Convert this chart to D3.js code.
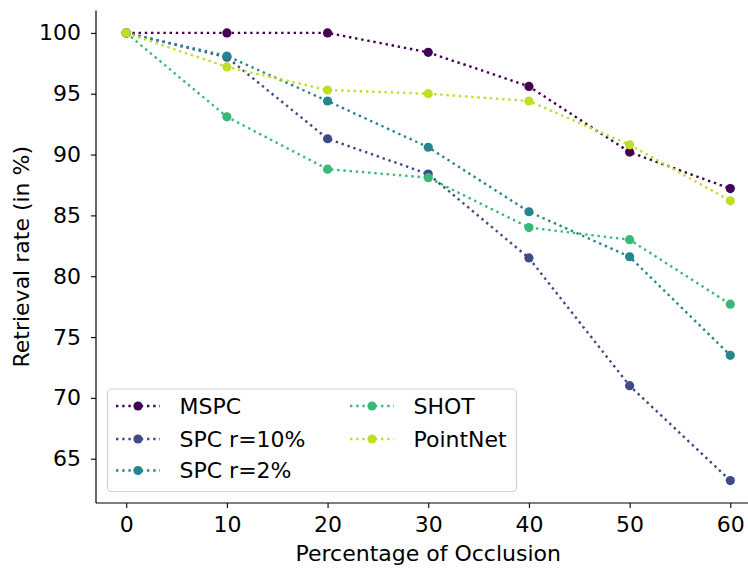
<!DOCTYPE html>
<html>
<head>
<meta charset="utf-8">
<script src="https://cdn.jsdelivr.net/npm/d3@7"></script>
<style>
  html, body { margin: 0; padding: 0; background: #fff; }
  svg { display: block; font-family: "DejaVu Sans", sans-serif; }
</style>
</head>
<body>
<svg id="chart" width="748" height="570"></svg>
<script>
// ---- data ----
const occlusion = [0, 10, 20, 30, 40, 50, 60];
const seriesNames = ["MSPC", "SPC r=10%", "SPC r=2%", "SHOT", "PointNet"];
const mspc     = [100, 100, 100, 98.4, 95.6, 90.2, 87.2];
const spc10    = [100, 98.0, 91.3, 88.4, 81.5, 71.0, 63.2];
const spc2     = [100, 98.1, 94.4, 90.6, 85.3, 81.6, 73.5];
const shot     = [100, 93.1, 88.8, 88.1, 84.0, 83.0, 77.7];
const pointnet = [100, 97.2, 95.3, 95.0, 94.4, 90.8, 86.2];
const xTicks = [0, 10, 20, 30, 40, 50, 60];
const yTicks = [65, 70, 75, 80, 85, 90, 95, 100];
const xLabel = "Percentage of Occlusion";
const yLabel = "Retrieval rate (in %)";

const seriesValues = [mspc, spc10, spc2, shot, pointnet];
const colorStops = [0, 0.225, 0.45, 0.675, 0.9];
const colors = colorStops.map(t => d3.interpolateViridis(t));

(function draw() {
  const svg = d3.select("#chart");
  const pL = 96, pR = 760.5, pT = 10.5, pB = 503;

  const allVals = seriesValues.flat();
  const yMin = d3.min(allVals), yMax = d3.max(allVals);
  const yPad = (yMax - yMin) * 0.05;
  const x = d3.scaleLinear().domain([-3, 63]).range([pL, pR]);
  const y = d3.scaleLinear().domain([yMin - yPad, yMax + yPad]).range([pB, pT]);

  const fontSize = 22;

  const xAxis = d3.axisBottom(x).tickValues(xTicks).tickSize(5).tickPadding(8).tickFormat(d3.format("d"));
  const yAxis = d3.axisLeft(y).tickValues(yTicks).tickSize(5).tickPadding(10).tickFormat(d3.format("d"));

  const gx = svg.append("g").attr("transform", `translate(0,${pB})`).call(xAxis);
  const gy = svg.append("g").attr("transform", `translate(${pL},0)`).call(yAxis);
  [gx, gy].forEach(g => {
    g.selectAll(".domain").remove();
    g.selectAll(".tick line").attr("stroke", "#000").attr("stroke-width", 1.1);
    g.selectAll(".tick text").attr("font-size", fontSize).attr("fill", "#000")
      .attr("font-family", "DejaVu Sans");
  });
  svg.append("line").attr("x1", pL).attr("x2", pL).attr("y1", pT).attr("y2", pB)
    .attr("stroke", "#000").attr("stroke-width", 1.2);
  svg.append("line").attr("x1", pL).attr("x2", 748).attr("y1", pB).attr("y2", pB)
    .attr("stroke", "#000").attr("stroke-width", 1.2);

  svg.append("text").attr("x", (pL + pR) / 2).attr("y", 561)
    .attr("text-anchor", "middle").attr("font-size", fontSize).text(xLabel);
  svg.append("text").attr("transform", `translate(29,${(pT + pB) / 2}) rotate(-90)`)
    .attr("text-anchor", "middle").attr("font-size", fontSize).text(yLabel);

  const line = d3.line().x((d, i) => x(occlusion[i])).y(d => y(d));
  seriesValues.forEach((vals, k) => {
    const g = svg.append("g");
    g.append("path").datum(vals).attr("d", line)
      .attr("fill", "none").attr("stroke", colors[k]).attr("stroke-width", 2.4)
      .attr("stroke-dasharray", "2.4,3.8");
    g.selectAll("circle").data(vals).join("circle")
      .attr("cx", (d, i) => x(occlusion[i])).attr("cy", d => y(d))
      .attr("r", 4.6).attr("fill", colors[k]);
  });

  const lg = svg.append("g");
  lg.append("rect").attr("x", 107.5).attr("y", 389).attr("width", 409).attr("height", 102.5)
    .attr("rx", 4).attr("fill", "#fff").attr("fill-opacity", 0.8)
    .attr("stroke", "#d0d0d0").attr("stroke-width", 1.1);
  const colX = [116, 350];
  const rowY = [406, 439, 470.5];
  seriesNames.forEach((name, k) => {
    const c = k < 3 ? 0 : 1, r = k < 3 ? k : k - 3;
    const hx = colX[c], hy = rowY[r];
    lg.append("line").attr("x1", hx).attr("x2", hx + 44).attr("y1", hy).attr("y2", hy)
      .attr("stroke", colors[k]).attr("stroke-width", 2.4).attr("stroke-dasharray", "2.4,3.8");
    lg.append("circle").attr("cx", hx + 22).attr("cy", hy).attr("r", 4.6).attr("fill", colors[k]);
    lg.append("text").attr("x", hx + 63.5).attr("y", hy).attr("dy", "0.36em")
      .attr("font-size", fontSize).text(name);
  });
})();
</script>
</body>
</html>
